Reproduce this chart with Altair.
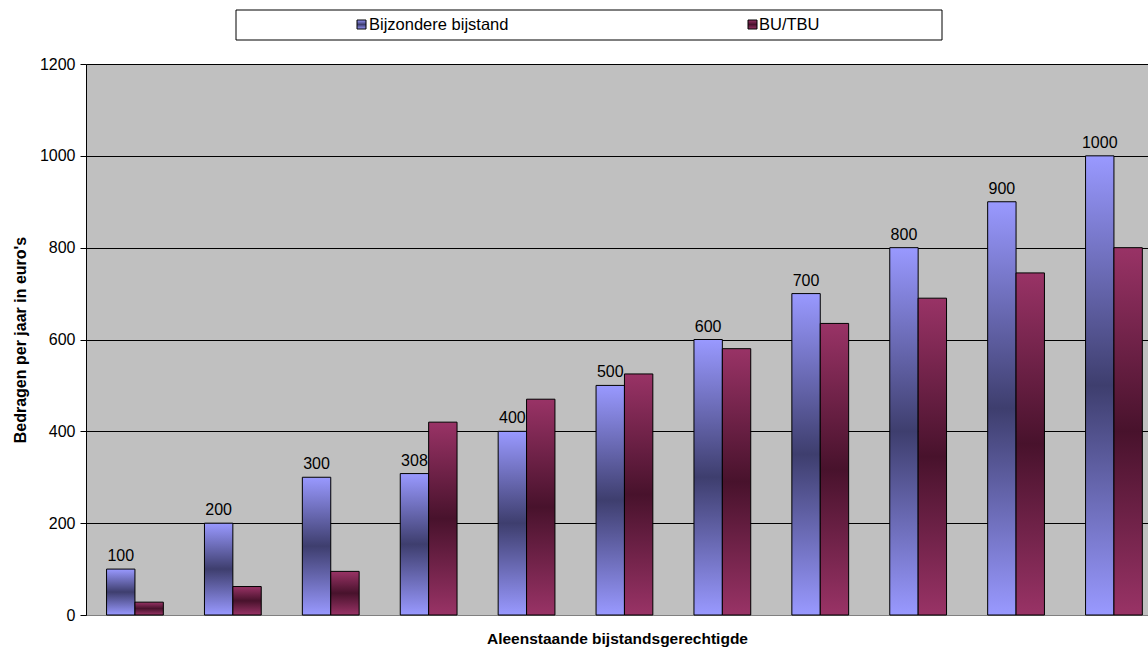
import altair as alt
import pandas as pd

categories = [1, 2, 3, 4, 5, 6, 7, 8, 9, 10, 11]
bijzondere = [100, 200, 300, 308, 400, 500, 600, 700, 800, 900, 1000]
bu_tbu = [28, 62, 95, 420, 470, 525, 580, 635, 690, 745, 800]
series_names = ["Bijzondere bijstand", "BU/TBU"]

rows = []
for c, a, b in zip(categories, bijzondere, bu_tbu):
    rows.append({"cat": c, "series": series_names[0], "value": a})
    rows.append({"cat": c, "series": series_names[1], "value": b})
df = pd.DataFrame(rows)

FONT = "Liberation Sans"
W, H = 1062, 551
BARW = 0.29


def grad(light, dark):
    return alt.LinearGradient(
        gradient="linear",
        stops=[
            alt.GradientStop(offset=0, color=light),
            alt.GradientStop(offset=0.5, color=dark),
            alt.GradientStop(offset=1, color=light),
        ],
        x1=0, x2=0, y1=0, y2=1,
    )


blue_grad = grad("#9999FF", "#3E3E6E")
red_grad = grad("#993366", "#48122C")

xscale = alt.Scale(domain=[0.5, 0.5 + W / 97.9], nice=False, zero=False, padding=0)
yscale = alt.Scale(domain=[0, 1200], nice=False, padding=0)

base = alt.Chart(df).transform_calculate(
    x0="datum.series == 'Bijzondere bijstand' ? datum.cat - %f : datum.cat" % BARW,
).transform_calculate(
    x1="datum.x0 + %f" % BARW,
    xm="datum.x0 + %f" % (BARW / 2),
)

xaxis = alt.Axis(labels=False, ticks=False, grid=False, domainColor="#808080",
                 title="Aleenstaande bijstandsgerechtigde", titleFont=FONT,
                 titleFontSize=15.5, titleFontWeight="bold", titleColor="black",
                 titlePadding=16)
yaxis = alt.Axis(values=[0, 200, 400, 600, 800, 1000, 1200], grid=True, format="d",
                 gridColor="black", gridWidth=1, domainColor="black",
                 tickColor="black", tickSize=6, labelFont=FONT, labelFontSize=16,
                 labelColor="black", labelPadding=5,
                 title="Bedragen per jaar in euro's", titleFont=FONT,
                 titleFontSize=16, titleFontWeight="bold", titleColor="black",
                 titlePadding=11)

blue = base.transform_filter(alt.datum.series == series_names[0]).mark_bar(
    fill=blue_grad, stroke="black", strokeWidth=1
).encode(
    x=alt.X("x0:Q", scale=xscale, axis=xaxis),
    x2="x1:Q",
    y=alt.Y("value:Q", scale=yscale, axis=yaxis),
    y2=alt.datum(0),
)

red = base.transform_filter(alt.datum.series == series_names[1]).mark_bar(
    fill=red_grad, stroke="black", strokeWidth=1
).encode(
    x=alt.X("x0:Q", scale=xscale),
    x2="x1:Q",
    y=alt.Y("value:Q", scale=yscale),
    y2=alt.datum(0),
)

labels = base.transform_filter(alt.datum.series == series_names[0]).mark_text(
    font=FONT, fontSize=16, color="black", baseline="bottom", dy=-5
).encode(
    x=alt.X("xm:Q", scale=xscale),
    y=alt.Y("value:Q", scale=yscale),
    text="value:Q",
)

# legend (drawn as decoration above the plot)
leg_df = pd.DataFrame({"series": series_names})
leg_box = alt.Chart(pd.DataFrame({"a": [0]})).mark_rect(
    fill="white", stroke="black", strokeWidth=1
).encode(x=alt.value(150), x2=alt.value(856), y=alt.value(-54), y2=alt.value(-24))

sq1 = alt.Chart(pd.DataFrame({"a": [0]})).mark_rect(
    fill=blue_grad, stroke="black", strokeWidth=1
).encode(x=alt.value(271), x2=alt.value(280), y=alt.value(-44), y2=alt.value(-35))
sq2 = alt.Chart(pd.DataFrame({"a": [0]})).mark_rect(
    fill=red_grad, stroke="black", strokeWidth=1
).encode(x=alt.value(662), x2=alt.value(671), y=alt.value(-44), y2=alt.value(-35))
t1 = alt.Chart(leg_df.iloc[[0]]).mark_text(
    font=FONT, fontSize=16.5, align="left", baseline="middle", color="black"
).encode(x=alt.value(283), y=alt.value(-39), text="series:N")
t2 = alt.Chart(leg_df.iloc[[1]]).mark_text(
    font=FONT, fontSize=16.5, align="left", baseline="middle", color="black"
).encode(x=alt.value(673), y=alt.value(-39), text="series:N")

chart = alt.layer(blue, red, labels, leg_box, sq1, sq2, t1, t2).properties(
    width=W, height=H,
    padding={"left": 86, "top": 64, "right": 0, "bottom": 37},
    autosize=alt.AutoSizeParams(type="none"),
    background="white",
).configure_view(fill="#C0C0C0", stroke=None)

chart.save("out.html", embed_options={"renderer": "svg", "actions": False})
